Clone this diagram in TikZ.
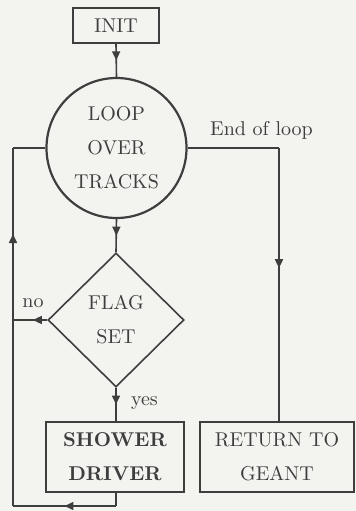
\documentclass[tikz,border=0pt]{standalone}
\usepackage{xcolor}
\usepackage{tikz}
\usetikzlibrary{arrows.meta, decorations.markings, shapes.geometric, positioning, calc}

\definecolor{paper}{RGB}{243,243,240}
\definecolor{ink}{RGB}{62,62,62}

\begin{document}
\begin{tikzpicture}[
    x=0.5pt, y=-0.5pt,
    every node/.style = {text=ink},
    box/.style   = {rectangle, draw=ink, line width=0.8pt, align=center,
                    inner sep=0pt, font=\fontsize{10}{17}\selectfont},
    loopc/.style = {circle, draw=ink, line width=1.1pt, align=center,
                    minimum size=70pt, inner sep=0pt,
                    font=\fontsize{10}{17}\selectfont},
    test/.style  = {diamond, draw=ink, line width=0.8pt, align=center,
                    minimum width=68pt, minimum height=67pt, inner sep=0pt,
                    font=\fontsize{10}{17}\selectfont},
    wire/.style  = {draw=ink, line width=0.8pt},
    midarr/.style = {wire, postaction={decorate},
                    decoration={markings, mark=at position #1 with
                      {\arrow{Triangle[length=4.5pt,width=4pt]}}}},
    midarr/.default = 0.5
  ]

  % background / page size
  \fill[paper] (0,0) rectangle (356,511);

  % ----------------------------------------------------------------
  % Blocks
  % ----------------------------------------------------------------
  \node[box, minimum width=43pt, minimum height=17.5pt] (init) at (116, 25.5) {INIT};
  \node[loopc] (loop) at (116.5, 148) {LOOP\\OVER\\TRACKS};
  \node[test] (flag) at (116, 320) {FLAG\\SET};
  \node[box, minimum width=69pt, minimum height=35pt, font=\fontsize{10}{17}\selectfont\bfseries]
        (shower) at (115, 457) {SHOWER\\DRIVER};
  \node[box, minimum width=77pt, minimum height=35pt] (ret) at (277, 457) {RETURN TO\\GEANT};

  % corners of the return wires
  \coordinate (topL) at (13, 148);
  \coordinate (noL)  at (13, 320);
  \coordinate (botL) at (13, 506);
  \coordinate (topR) at (279, 148);

  % ----------------------------------------------------------------
  % Main line
  % ----------------------------------------------------------------
  \draw[midarr] (init.south) -- (loop.north);
  \draw[midarr] (loop.south) -- (flag.north);
  \draw[midarr] (flag.south) -- (flag.south |- shower.north);
  \node[anchor=west] (yes) at (124, 403) {yes};

  % no branch
  \draw[midarr=0.42] (flag.west) -- (noL);
  \node (no) at (33, 303) {no};

  % back to the loop
  \draw[wire] (shower.south -| flag.south) -- (botL -| flag.south);
  \draw[midarr] (botL -| flag.south) -- (botL);
  \draw[wire] (botL) -- (noL);
  \draw[midarr] (noL) -- (topL);
  \draw[wire] (topL) -- (loop.west);

  % end of loop
  \draw[wire] (loop.east) -- (topR);
  \draw[midarr=0.44] (topR) -- (topR |- ret.north);
  \node (eol) at (261.5, 130) {End of loop};

\end{tikzpicture}
\end{document}
